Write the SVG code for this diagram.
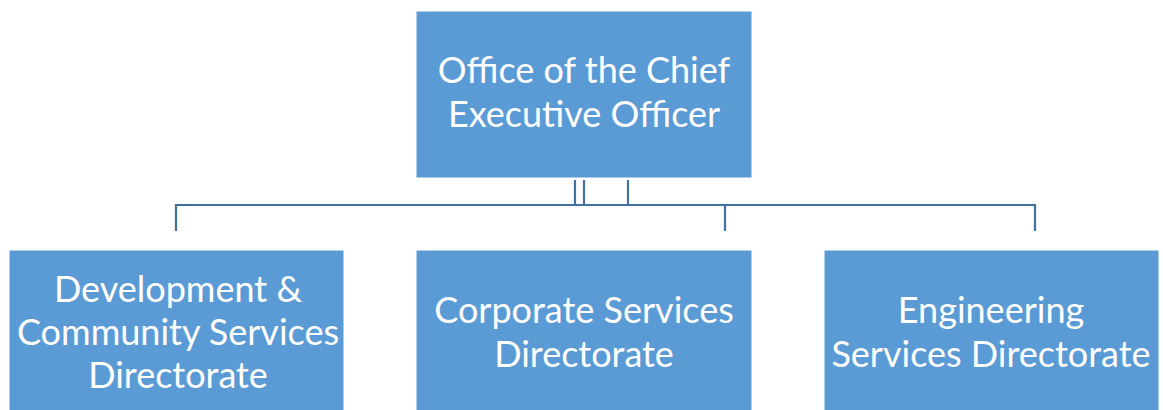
<svg xmlns="http://www.w3.org/2000/svg" width="1163" height="410" viewBox="0 0 1163 410">
<style>
.box{fill:#5B9BD5;stroke:#5B9BD5;stroke-width:1}
.lbl{font-family:Lato,"Liberation Sans",sans-serif;font-size:36px;fill:#fff;text-anchor:middle}
.con{stroke:#41719C;stroke-width:2.2;fill:none}
</style>
<rect width="1163" height="410" fill="#fff"/>
<g id="connectors">
<path class="con" d="M575,180V205M584,180V205M628,180V205M176,231V205H1035V231M725,205V231"/>
</g>
<g id="ceo">
<rect class="box" x="417" y="12" width="334" height="165"/>
<text class="lbl" x="584" y="83">Office of the Chief</text>
<text class="lbl" x="584" y="127">Executive Officer</text>
</g>
<g id="dev">
<rect class="box" x="10" y="251" width="333" height="165"/>
<text class="lbl" x="178" y="302">Development &amp;</text>
<text class="lbl" x="178" y="345">Community Services</text>
<text class="lbl" x="178" y="388">Directorate</text>
</g>
<g id="corp">
<rect class="box" x="417" y="251" width="334" height="165"/>
<text class="lbl" x="584" y="323">Corporate Services</text>
<text class="lbl" x="584" y="367">Directorate</text>
</g>
<g id="eng">
<rect class="box" x="825" y="251" width="333" height="165"/>
<text class="lbl" x="991" y="323">Engineering</text>
<text class="lbl" x="991" y="367">Services Directorate</text>
</g>
</svg>
